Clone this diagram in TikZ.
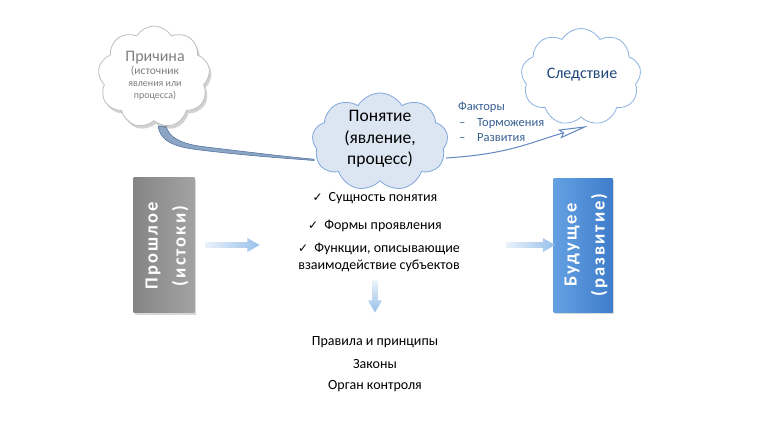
\documentclass[tikz,border=0pt]{standalone}
\usepackage{fontspec}
\setmainfont{Carlito}
\newfontfamily\symfont{DejaVu Sans}
\newfontfamily\boxfont{Carlito}[LetterSpace=11]
\usetikzlibrary{shapes.symbols,shapes.arrows,shadows,arrows.meta,calc}
\newcommand\chkmark{{\symfont\fontsize{12}{12}\selectfont ✓}}
\definecolor{causeline}{HTML}{BFBFBF}
\definecolor{causetext}{HTML}{7F7F7F}
\definecolor{conceptfill}{HTML}{DCE6F2}
\definecolor{conceptline}{HTML}{7FA7DA}
\definecolor{effectline}{HTML}{8DB3E2}
\definecolor{effecttext}{HTML}{1F497D}
\definecolor{factortext}{HTML}{376092}
\definecolor{conna}{HTML}{8CA5C5}
\definecolor{connadark}{HTML}{4A6B9A}
\definecolor{connb}{HTML}{5F87C2}
\definecolor{pastL}{HTML}{858585}
\definecolor{pastR}{HTML}{A3A3A3}
\definecolor{futL}{HTML}{64A0E2}
\definecolor{futR}{HTML}{3F7DCB}
\definecolor{arrL}{HTML}{EAF2FB}
\definecolor{arrR}{HTML}{98C0EA}
\pgfdeclarelayer{bgzero}
\pgfdeclarelayer{bgone}
\pgfsetlayers{bgzero,bgone,main}
\begin{document}
\begin{tikzpicture}[x=1pt,y=-1pt,
  cloudbase/.style={cloud, cloud puffs=9, cloud puff arc=120, cloud ignores aspect, inner sep=0pt, line width=0.8pt},
  bluearrow/.style={single arrow, draw=none, inner xsep=0pt, inner ysep=2.6pt, single arrow head extend=4pt, single arrow tip angle=60, minimum width=14pt},
  body/.style={font=\fontsize{14}{17}\selectfont, inner sep=0pt},
  boxshadow/.style={drop shadow={shadow xshift=1pt, shadow yshift=-2pt, opacity=0.3, fill=gray}},
  boxtext/.style={rotate=90, text=white, align=center, inner sep=0pt, font=\boxfont\bfseries\fontsize{18.5}{28}\selectfont}
]
\begin{pgfonlayer}{bgzero}
\fill[white] (0,0) rectangle (768,432);
\end{pgfonlayer}
\useasboundingbox (0,0) rectangle (768,432);

% clouds
\node[cloudbase, draw=causeline, fill=white,
      drop shadow={shadow xshift=2pt, shadow yshift=-3pt, opacity=0.35, fill=gray},
      minimum width=112pt, minimum height=102pt] (cause) at (154,77) {};
\node[align=center, text=causetext, inner sep=0pt] (causetxt) at (155,76)
  {\fontsize{16}{18}\selectfont Причина\\[1pt]\fontsize{11.5}{12.5}\selectfont (источник\\явления или\\процесса)};

\node[cloudbase, draw=conceptline, fill=conceptfill, minimum width=136pt, minimum height=98pt] (concept) at (380,142) {};
\node[align=center, inner sep=0pt, font=\fontsize{17.5}{21.5}\selectfont] (concepttxt) at (380,139) {Понятие\\(явление,\\процесс)};

\node[cloudbase, draw=effectline, fill=white, minimum width=120pt, minimum height=97pt] (effect) at (581,77) {};
\node[text=effecttext, inner sep=0pt, font=\fontsize{16}{18}\selectfont] (effecttxt) at (582,75) {Следствие};

% connectors
\begin{pgfonlayer}{bgone}
\path[fill=conna, draw=connadark, line width=0.5pt]
  ($(cause.center)+(4,49)$) .. controls ($(cause.center)+(6,63)$) and ($(cause.center)+(18,70)$) .. ($(cause.center)+(46,73)$)
  .. controls ($(cause.center)+(86,78)$) and ($(concept.center)+(-100,16)$) .. ($(concept.center)+(-66,18.5)$)
  -- ($(concept.center)+(-66,17.2)$) .. controls ($(concept.center)+(-100,14)$) and ($(cause.center)+(86,74)$) .. ($(cause.center)+(48,69.5)$)
  .. controls ($(cause.center)+(26,66.5)$) and ($(cause.center)+(15,60)$) .. ($(cause.center)+(12,49)$) -- cycle;
\draw[connb, line width=1pt, -{Stealth[open, length=30pt, width=9pt, inset=4pt, fill=white]}]
  ($(concept.center)+(66,16)$) .. controls ($(concept.center)+(130,12)$) and ($(effect.center)+(-50,65)$) .. ($(effect.center)+(7,49)$);
\end{pgfonlayer}

\node[anchor=west, text=factortext, font=\fontsize{12.5}{15.5}\selectfont, align=left, inner sep=0pt] (factors) at (458,122)
  {Факторы\\\hspace*{1pt}\makebox[18pt][l]{–}Торможения\\\hspace*{1pt}\makebox[18pt][l]{–}Развития};

% boxes
\node[rectangle, minimum width=61pt, minimum height=135pt, inner sep=0pt, left color=pastL, right color=pastR, boxshadow] (past) at (164,245) {};
\node[boxtext] (pasttxt) at (167,246) {Прошлое\\(истоки)};
\node[rectangle, minimum width=59pt, minimum height=134pt, inner sep=0pt, left color=futL, right color=futR, boxshadow] (future) at (583,245) {};
\node[boxtext] (futuretxt) at (586,245) {Будущее\\(развитие)};

% block arrows
\node[bluearrow, minimum height=54pt, left color=arrL, right color=arrR] (arra) at (230,245) {};
\node[bluearrow, minimum height=49pt, left color=arrL, right color=arrR] (arrb) at (528,245) {};
\node[bluearrow, inner xsep=2.6pt, inner ysep=0pt, shape border rotate=270, minimum height=32pt, top color=arrL, bottom color=arrR] (arrc) at (375,294) {};

% lists
\node[body] (ess) at (375,198) {\chkmark\hspace{6pt}Сущность понятия};
\node[body] (forms) at (375,226) {\chkmark\hspace{6pt}Формы проявления};
\node[body, align=center] (funcs) at (379,257) {\chkmark\hspace{6pt}Функции, описывающие\\взаимодействие субъектов};
\node[body] (rules) at (375,342) {Правила и принципы};
\node[body] (laws) at (375,364) {Законы};
\node[body] (control) at (375,386) {Орган контроля};
\end{tikzpicture}
\end{document}
